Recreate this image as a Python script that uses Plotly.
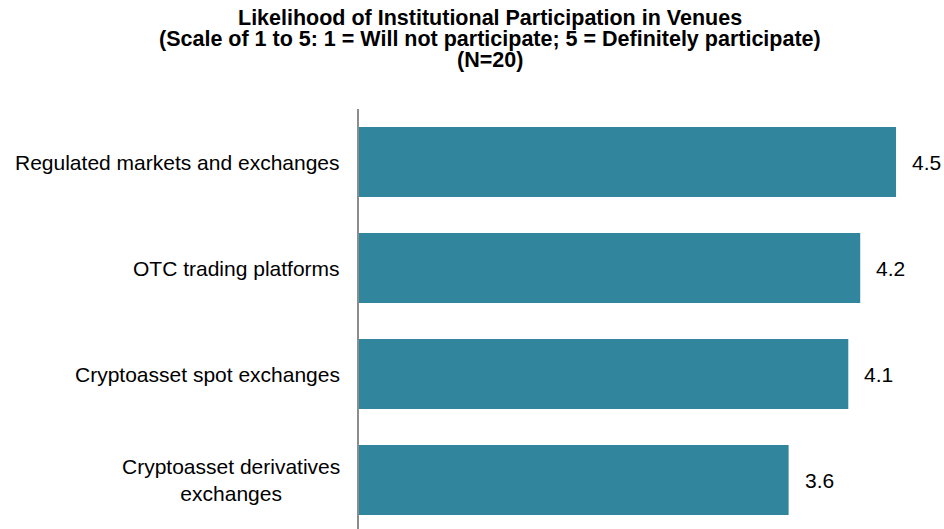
import plotly.graph_objects as go

categories = [
    "Regulated markets and exchanges",
    "OTC trading platforms",
    "Cryptoasset spot exchanges",
    "Cryptoasset derivatives<br>exchanges",
]
values = [4.5, 4.2, 4.1, 3.6]
value_labels = ["4.5", "4.2", "4.1", "3.6"]

title_lines = [
    "Likelihood of Institutional Participation in Venues",
    "(Scale of 1 to 5: 1 = Will not participate; 5 = Definitely participate)",
    "(N=20)",
]
title_line_y = [1.216, 1.166, 1.116]  # paper coordinates above plot

FONT = "Arial, 'Liberation Sans', sans-serif"
BAR = "#31859C"

fig = go.Figure()
fig.add_trace(go.Bar(
    x=values, y=categories, orientation="h",
    marker=dict(color=BAR, line=dict(width=0)),
    hoverinfo="skip",
))

# value labels
for c, v, t in zip(categories, values, value_labels):
    fig.add_annotation(x=v, y=c, text=t, showarrow=False, xanchor="left",
                       xshift=14, font=dict(family=FONT, size=21, color="#000000"))

# category labels (centered multi-line)
for c in categories:
    fig.add_annotation(x=0, y=c, xref="paper", text=c, showarrow=False,
                       xanchor="right", align="center", xshift=-17,
                       font=dict(family=FONT, size=21, color="#000000"))

# title lines (tight line spacing as in the reference)
for t, yy in zip(title_lines, title_line_y):
    fig.add_annotation(x=(490 - 359) / 585, xref="paper", y=yy, yref="paper",
                       text="<b>" + t + "</b>", showarrow=False,
                       xanchor="center", yanchor="middle",
                       font=dict(family=FONT, size=21.5, color="#000000"))

fig.update_layout(
    width=944, height=529,
    margin=dict(l=359, r=0, t=109, b=0),
    paper_bgcolor="white", plot_bgcolor="white",
    showlegend=False,
    bargap=0.34,
    xaxis=dict(range=[0, 4.902], showgrid=False, zeroline=False,
               showticklabels=False, showline=False, ticks=""),
    yaxis=dict(range=[3.462, -0.5], showgrid=False, zeroline=False,
               showticklabels=False, ticks="", showline=True,
               linecolor="#8C8C8C", linewidth=2),
)

fig.write_html("out.html", config={"displayModeBar": False},
               post_script="document.body.style.margin='0px';")
